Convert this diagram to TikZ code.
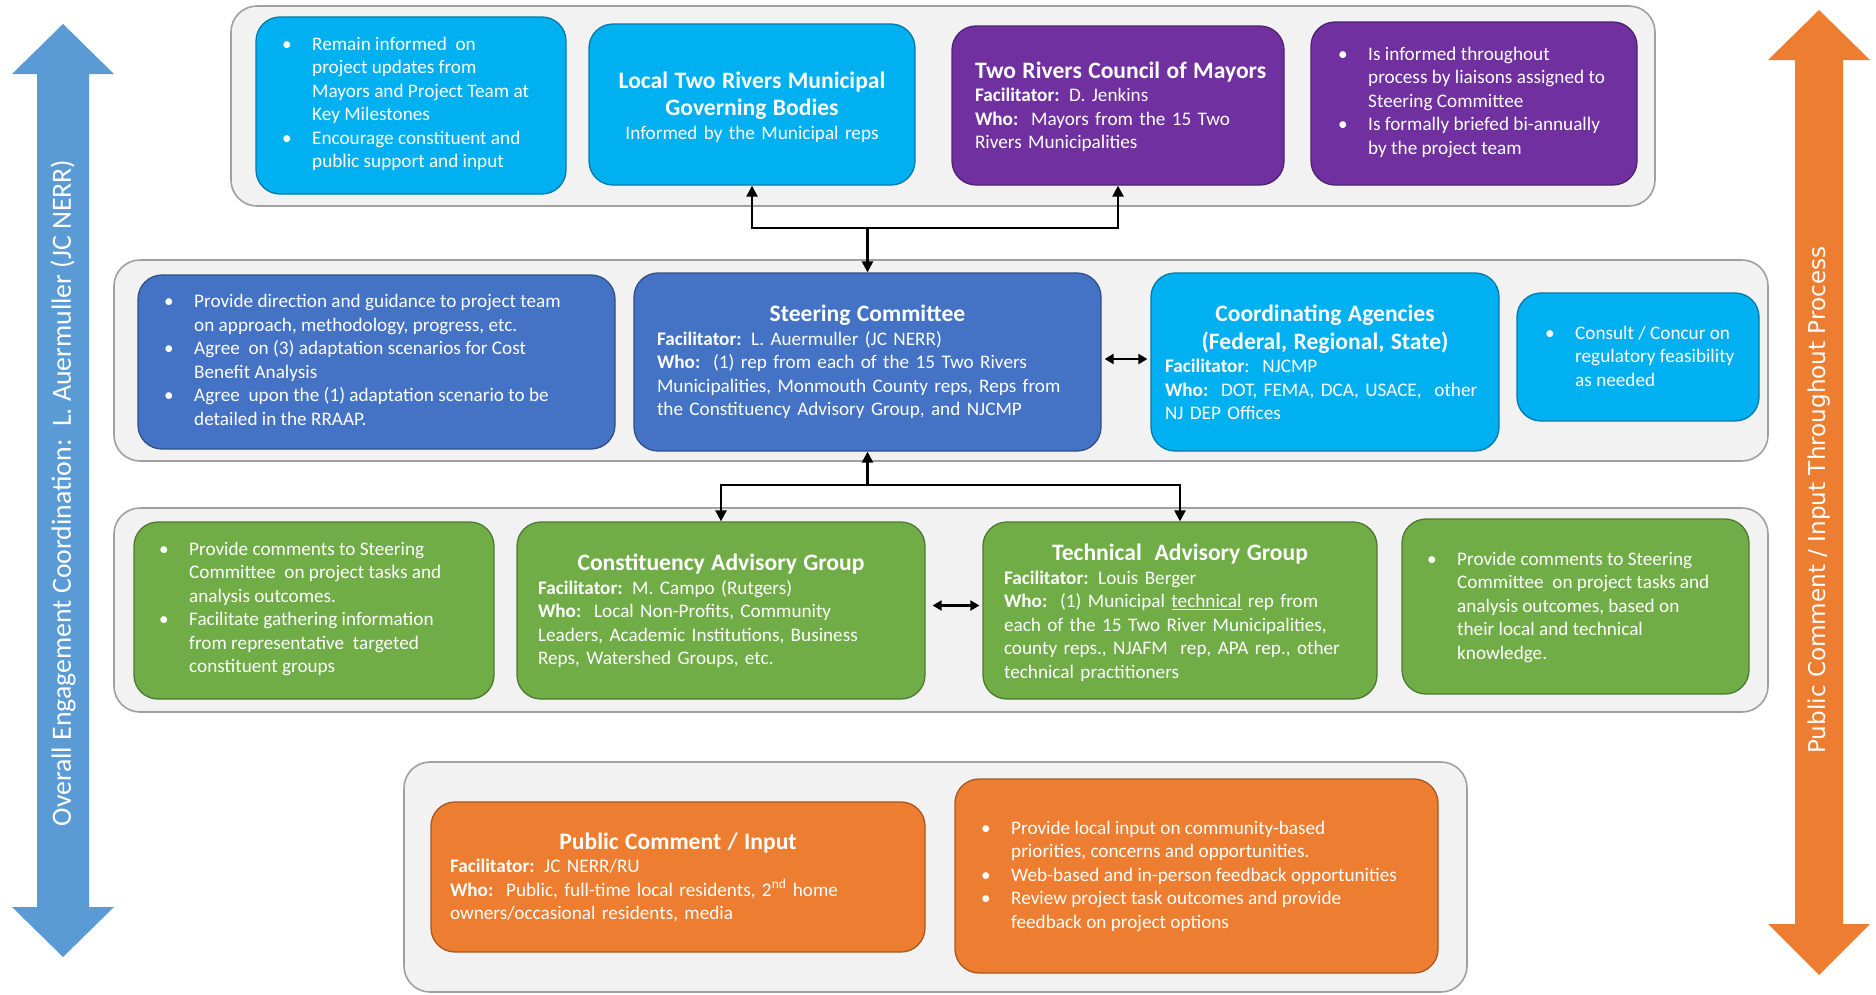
\documentclass[tikz,border=0pt]{standalone}
\usepackage{fontspec}
\setmainfont{Carlito}
\newfontfamily\verdf{DejaVu Sans}
\usetikzlibrary{arrows.meta}
\definecolor{cyanc}{HTML}{00B0F0}
\definecolor{purplec}{HTML}{7030A0}
\definecolor{bluec}{HTML}{4472C4}
\definecolor{greenc}{HTML}{70AD47}
\definecolor{orangec}{HTML}{ED7D31}
\definecolor{larrow}{HTML}{5B9BD5}
\definecolor{panelf}{HTML}{F2F2F2}
\definecolor{panelb}{HTML}{A0A0A0}
\newcommand{\bodyf}{\fontsize{19.2}{23.5}\selectfont}
\newcommand{\titlef}{\fontsize{23.6}{27.5}\selectfont\bfseries}
\newcommand{\bul}{\makebox[30pt][l]{\textbullet}}
\newcommand{\ind}{\hspace*{30pt}}
\begin{document}
\begin{tikzpicture}[x=1pt,y=-1pt,
  panel/.style={draw=panelb, fill=panelf, line width=1.6pt, rounded corners=26pt},
  cbox/.style={draw=#1!70!black, fill=#1, line width=1.3pt, rounded corners=24pt, inner sep=0pt},
  txt/.style={text=white, inner sep=0pt, font=\bodyf},
  btxt/.style={txt, align=left, anchor=west},
  ttxt/.style={txt, align=left, text width=#1, anchor=center},
  conn/.style={line width=2.4pt, -{Triangle[length=11pt,width=11pt]}},
  dconn/.style={line width=2.2pt, {Triangle[length=9pt,width=10pt]}-{Triangle[length=9pt,width=10pt]}}
]
\useasboundingbox (0,0) rectangle (1876,994);
\fill[white] (0,0) rectangle (1876,994);

% big side arrows
\fill[larrow] (63,24) -- (114,74) -- (89,74) -- (89,907) -- (114,907) -- (63,957)
  -- (12,907) -- (37,907) -- (37,74) -- (12,74) -- cycle;
\node[text=white, rotate=90, font=\fontsize{27.8}{32}\selectfont, inner sep=0pt] (ltext) at (63,493)
  {Overall Engagement Coordination:\ \ L. Auermuller (JC NERR)};
\fill[orangec] (1819,10) -- (1870,60) -- (1843,60) -- (1843,924) -- (1870,924) -- (1819,975)
  -- (1768,924) -- (1795,924) -- (1795,60) -- (1768,60) -- cycle;
\node[text=white, rotate=90, font=\verdf\fontsize{23.1}{27}\selectfont, inner sep=0pt] (rtext) at (1819,500)
  {Public Comment / Input Throughout Process};

% panels
\draw[panel] (231,6) rectangle (1655,206);
\draw[panel] (114,260) rectangle (1768,461);
\draw[panel] (114,508) rectangle (1768,712);
\draw[panel] (404,762) rectangle (1467,992);

% boxes
\node[cbox=cyanc, minimum width=310pt, minimum height=177pt] (A) at (411,105.5) {};
\node[cbox=cyanc, minimum width=326pt, minimum height=161pt] (B) at (752,104.5) {};
\node[cbox=purplec, minimum width=332pt, minimum height=159pt] (C) at (1118,105.5) {};
\node[cbox=purplec, minimum width=326pt, minimum height=163pt] (D) at (1474,103.5) {};
\node[cbox=bluec, minimum width=477pt, minimum height=174pt] (E) at (376.5,362) {};
\node[cbox=bluec, minimum width=467pt, minimum height=178pt] (F) at (867.5,362) {};
\node[cbox=cyanc, minimum width=348pt, minimum height=178pt] (G) at (1325,362) {};
\node[cbox=cyanc, minimum width=242pt, minimum height=128pt] (H) at (1638,357) {};
\node[cbox=greenc, minimum width=360pt, minimum height=177pt] (I) at (314,610.5) {};
\node[cbox=greenc, minimum width=408pt, minimum height=177pt] (J) at (721,610.5) {};
\node[cbox=greenc, minimum width=394pt, minimum height=177pt] (K) at (1180,610.5) {};
\node[cbox=greenc, minimum width=347pt, minimum height=175pt] (L) at (1575.5,606.5) {};
\node[cbox=orangec, minimum width=494pt, minimum height=150pt] (M) at (678,877) {};
\node[cbox=orangec, minimum width=483pt, minimum height=194pt] (N) at (1196.5,876) {};

% texts
\node[btxt] (At) at (282,104) {\bul Remain informed\ \ on\\ \ind project updates from\\ \ind Mayors and Project Team at\\ \ind Key Milestones\\ \bul Encourage constituent and\\ \ind public support and input};
\node[ttxt=320pt, align=center] (Bt) at (752,107) {{\titlef Local Two Rivers Municipal\\ Governing Bodies\par}\bodyf Informed by the Municipal reps};
\node[ttxt=300pt] (Ct) at (1125,107) {{\titlef\mbox{Two Rivers Council of Mayors}\par}\textbf{Facilitator:} D. Jenkins\\ \textbf{Who:}\ \ Mayors from the 15 Two\\ Rivers Municipalities};
\node[btxt] (Dt) at (1338,102) {\bul Is informed throughout\\ \ind process by liaisons assigned to\\ \ind Steering Committee\\ \bul Is formally briefed bi-annually\\ \ind by the project team};

\node[btxt] (Et) at (164,360) {\bul Provide direction and guidance to project team\\ \ind on approach, methodology, progress, etc.\\ \bul Agree\ \ on (3) adaptation scenarios for Cost\\ \ind Benefit Analysis\\ \bul Agree\ \ upon the (1) adaptation scenario to be\\ \ind detailed in the RRAAP.};
\node[ttxt=421pt] (Ft) at (867.5,362) {{\centering\titlef\mbox{Steering Committee}\par}\textbf{Facilitator:} L. Auermuller (JC NERR)\\ \textbf{Who:}\ \ (1) rep from each of the 15 Two Rivers\\ Municipalities, Monmouth County reps, Reps from\\ the Constituency Advisory Group, and NJCMP};
\node[ttxt=320pt] (Gt) at (1325,362.5) {{\centering\titlef Coordinating Agencies\\ (Federal, Regional, State)\par}\textbf{Facilitator}:\ \ NJCMP\\ \textbf{Who:}\ \ DOT, FEMA, DCA, USACE,\ \ other\\ NJ DEP Offices};
\node[btxt] (Ht) at (1545,356) {\bul Consult / Concur on\\ \ind regulatory feasibility\\ \ind as needed};

\node[btxt] (It) at (159,609) {\bul Provide comments to Steering\\ \ind Committee\ \ on project tasks and\\ \ind analysis outcomes.\\ \bul Facilitate gathering information\\ \ind from representative\ \ targeted\\ \ind constituent groups};
\node[ttxt=366pt] (Jt) at (721,611) {{\centering\titlef\mbox{Constituency Advisory Group}\par}\textbf{Facilitator:} M. Campo (Rutgers)\\ \textbf{Who:}\ \ Local Non-Profits, Community\\ Leaders, Academic Institutions, Business\\ Reps, Watershed Groups, etc.};
\node[ttxt=352pt] (Kt) at (1180,613) {{\centering\titlef\mbox{Technical\ \ Advisory Group}\par}\textbf{Facilitator:} Louis Berger\\ \textbf{Who:}\ \ (1) Municipal \underline{technical} rep from\\ each of the 15 Two River Municipalities,\\ county reps., NJAFM\ \ rep, APA rep., other\\ technical practitioners};
\node[btxt] (Lt) at (1427,607) {\bul Provide comments to Steering\\ \ind Committee\ \ on project tasks and\\ \ind analysis outcomes, based on\\ \ind their local and technical\\ \ind knowledge.};

\node[ttxt=456pt] (Mt) at (678,877.5) {{\centering\titlef\mbox{Public Comment / Input}\par}\textbf{Facilitator:} JC NERR/RU\\ \textbf{Who:}\ \ Public, full-time local residents, 2\textsuperscript{nd} home\\ owners/occasional residents, media};
\node[btxt] (Nt) at (981,876) {\bul Provide local input on community-based\\ \ind priorities, concerns and opportunities.\\ \bul Web-based and in-person feedback opportunities\\ \bul Review project task outcomes and provide\\ \ind feedback on project options};

% connectors
\coordinate (tj) at (867.5,228);
\coordinate (bj) at (867.5,485);
\draw[conn] (tj) -| (B.south);
\draw[conn] (tj) -| (C.south);
\draw[conn] (tj) -- (F.north);
\draw[conn] (bj) -- (F.south);
\draw[conn] (bj) -| (J.north);
\draw[conn] (bj) -| (K.north);
\draw[dconn, shorten <=3pt, shorten >=3pt] ([yshift=3pt]F.east) -- ([yshift=3pt]G.west);
\draw[dconn, shorten <=7pt, shorten >=3pt] ([yshift=5pt]J.east) -- ([yshift=5pt]K.west);
\end{tikzpicture}
\end{document}
